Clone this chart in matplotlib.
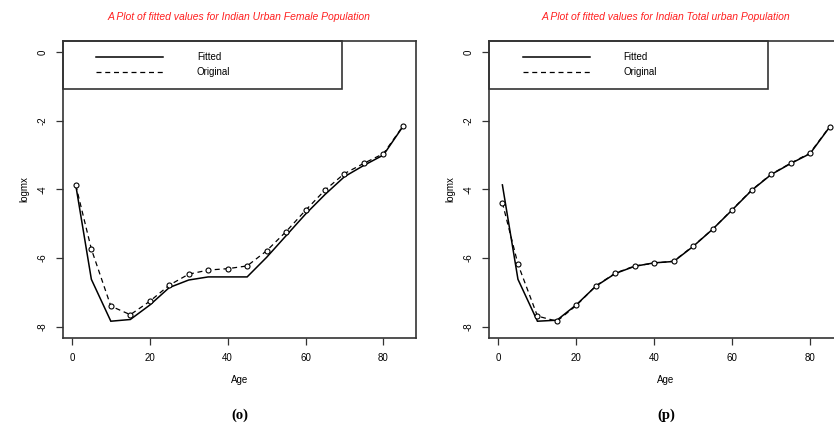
import matplotlib
matplotlib.use("Agg")
import matplotlib.pyplot as plt
from matplotlib.lines import Line2D
from matplotlib.patches import Rectangle

plt.rcParams['font.family'] = ['Liberation Sans', 'DejaVu Sans']
plt.rcParams['axes.unicode_minus'] = False

ages = [1, 5, 10, 15, 20, 25, 30, 35, 40, 45, 50, 55, 60, 65, 70, 75, 80, 85]

female_original = [-3.88, -5.74, -7.40, -7.65, -7.26, -6.79, -6.47, -6.35, -6.31,
                   -6.23, -5.79, -5.23, -4.61, -4.02, -3.54, -3.24, -2.96, -2.16]
female_fitted = [-3.88, -6.62, -7.84, -7.79, -7.37, -6.86, -6.64, -6.55, -6.55,
                 -6.55, -5.98, -5.35, -4.72, -4.15, -3.63, -3.30, -3.00, -2.17]

total_original = [-4.39, -6.18, -7.69, -7.84, -7.38, -6.81, -6.44, -6.23, -6.15,
                  -6.09, -5.65, -5.16, -4.59, -4.02, -3.56, -3.24, -2.94, -2.18]
total_fitted = [-3.87, -6.62, -7.84, -7.81, -7.36, -6.82, -6.45, -6.24, -6.14,
                -6.10, -5.66, -5.16, -4.60, -4.03, -3.57, -3.25, -2.96, -2.19]

titles = ["A Plot of fitted values for Indian Urban Female Population",
          "A Plot of fitted values for Indian Total urban Population"]
captions = ["(o)", "(p)"]
legend_labels = ["Fitted", "Original"]
xticks = [0, 20, 40, 60, 80]
yticks = [0, -2, -4, -6, -8]

W, H = 834, 430
fig = plt.figure(figsize=(W / 100, H / 100), dpi=100)

edge = '#333333'
panels = [
    (62.7, female_fitted, female_original),
    (489.3, total_fitted, total_original),
]
ax_w = 353.3
ax_top = 41
ax_h = 296.7

for i, (left_px, fitted, original) in enumerate(panels):
    ax = fig.add_axes([left_px / W, 1 - (ax_top + ax_h) / H, ax_w / W, ax_h / H])
    ax.set_xlim(-2.36, 88.36)
    ax.set_ylim(-8.32, 0.32)
    ax.plot(ages, fitted, color='black', lw=1.1, solid_joinstyle='miter')
    ax.plot(ages, original, color='black', lw=0.9, ls=(0, (4, 3)),
            marker='o', ms=3.6, mfc='white', mec='black', mew=0.8)
    for s in ax.spines.values():
        s.set_color(edge)
        s.set_linewidth(1.2)
    ax.set_xticks(xticks)
    ax.set_yticks(yticks)
    ax.set_xticklabels([str(t) for t in xticks], fontsize=7)
    ax.set_yticklabels([str(t) for t in yticks], fontsize=7, rotation=90,
                       va='center')
    ax.tick_params(axis='x', length=5, width=0.9, color=edge, pad=6)
    ax.tick_params(axis='y', length=5, width=0.9, color=edge, pad=6)
    ax.set_xlabel("Age", fontsize=7, labelpad=9)
    ax.set_ylabel("logmx", fontsize=7, labelpad=6)
    ax.set_title(titles[i], color='#ff2020', fontsize=7.5, style='italic',
                 pad=15)
    # legend box (R style)
    ax.add_patch(Rectangle((0, 0.838), 0.79, 0.162, transform=ax.transAxes,
                           fill=False, ec=edge, lw=1.2, clip_on=False))
    ax.add_line(Line2D([0.094, 0.284], [0.946, 0.946], transform=ax.transAxes,
                       color='black', lw=1.1))
    ax.add_line(Line2D([0.094, 0.284], [0.896, 0.896], transform=ax.transAxes,
                       color='black', lw=0.9, ls=(0, (4, 3))))
    ax.text(0.38, 0.946, legend_labels[0], transform=ax.transAxes,
            fontsize=7, va='center')
    ax.text(0.38, 0.896, legend_labels[1], transform=ax.transAxes,
            fontsize=7, va='center')
    cx = [240, 666][i]
    fig.text(cx / W, 1 - 415 / H, captions[i], ha='center', va='center',
             fontsize=10.5, fontweight='bold', family='Liberation Serif')

fig.savefig("out.png", dpi=100)
